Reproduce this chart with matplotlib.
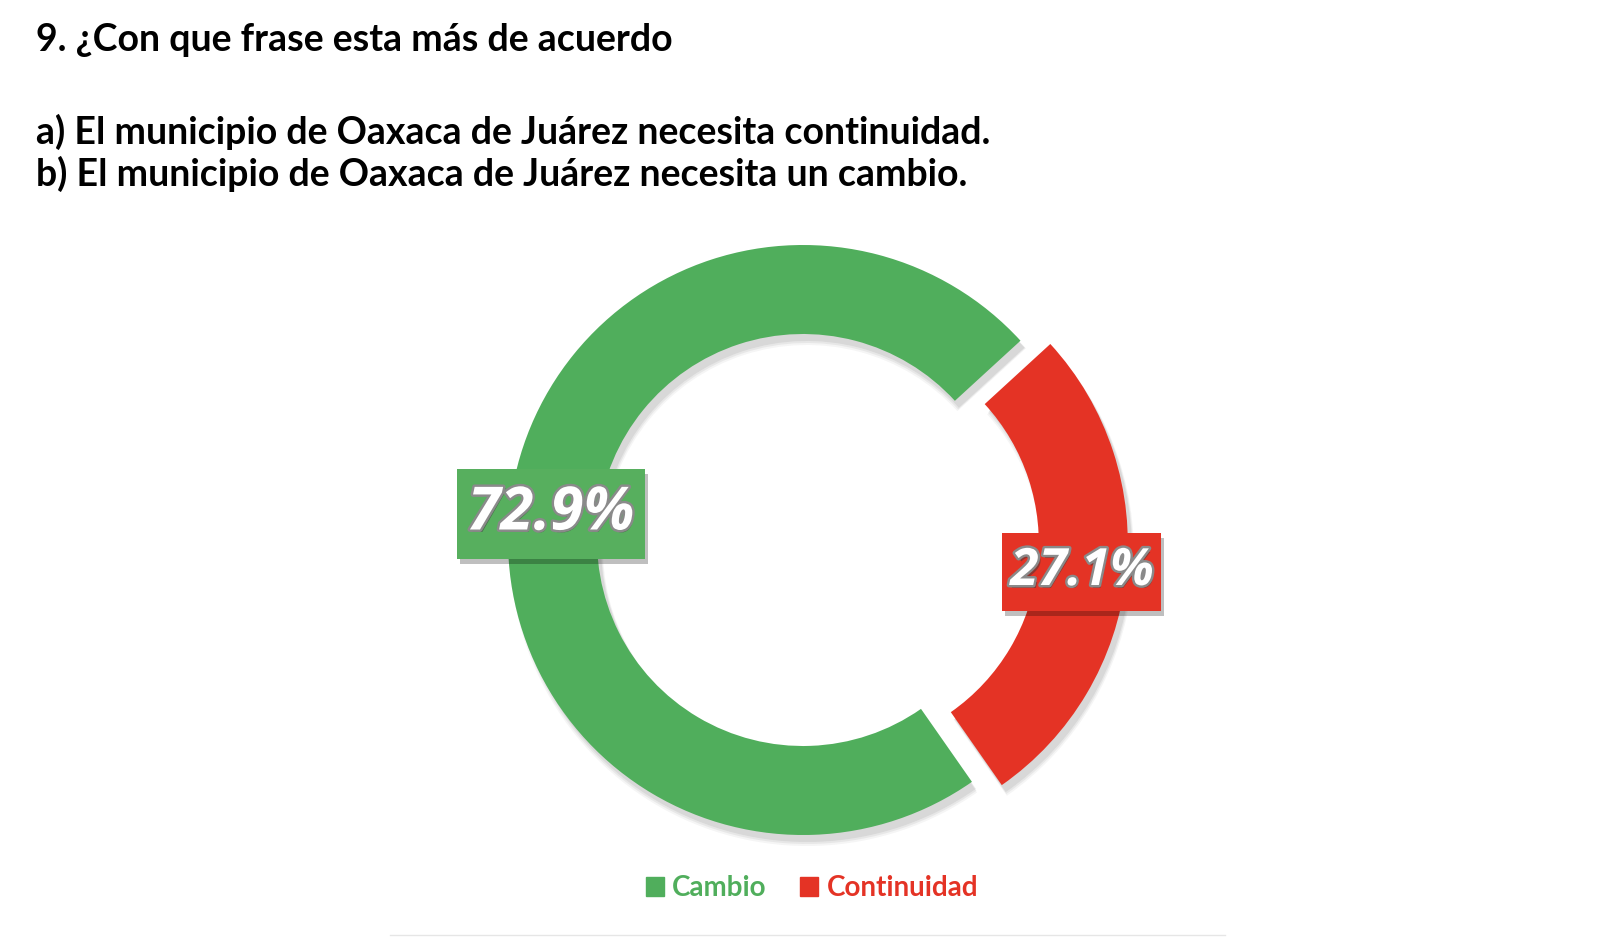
import numpy as np
import matplotlib.pyplot as plt
import matplotlib.patheffects as pe
from matplotlib.patches import Patch, Rectangle

# data
categories = [ 'Continuidad', 'Cambio' ]
shares     = [ 27.1, 72.9 ]
pct_labels = [ '27.1%', '72.9%' ]
title_lines = [
	'9. ¿Con que frase esta más de acuerdo',
	'a) El municipio de Oaxaca de Juárez necesita continuidad.',
	'b) El municipio de Oaxaca de Juárez necesita un cambio.',
]

RED   = '#e43325'
GREEN = '#50ae5c'
colors = [ RED, GREEN ]

W, H = 1608, 942
fig = plt.figure( figsize = ( W / 100, H / 100 ), dpi = 100 )
ax  = fig.add_axes( [ 0, 0, 1, 1 ] )

cx, cy = 803, H - 540
R, ring = 295, 89
explode = [ 30, 0 ]
start = 42.5

# soft shadow under the ring
for k, a in enumerate( [ 0.10, 0.08, 0.06 ] ):
	ax.pie( shares, colors = [ '#555555' ] * 2, startangle = start, counterclock = False,
		radius = R + k, center = ( cx + 4, cy - 7 - k ), explode = explode,
		wedgeprops = dict( width = ring + 2 * k, alpha = a, linewidth = 0 ) )

wedges, _ = ax.pie( shares, colors = colors, startangle = start, counterclock = False,
	radius = R, center = ( cx, cy ), explode = explode,
	wedgeprops = dict( width = ring, linewidth = 0 ) )

ax.set_xlim( 0, W )
ax.set_ylim( 0, H )
ax.set_aspect( 'equal' )
ax.axis( 'off' )

# percentage boxes
boxes = [ ( 1082, H - 572, 159, 78, RED, 37 ), ( 551, H - 514, 188, 90, '#57af5e', 43 ) ]
for ( bx, by, bw, bh, bc, fs ), txt in zip( boxes, pct_labels ):
	ax.add_patch( Rectangle( ( bx - bw / 2 + 3, by - bh / 2 - 5 ), bw, bh,
		color = '#000000', alpha = 0.25, lw = 0 ) )
	ax.add_patch( Rectangle( ( bx - bw / 2, by - bh / 2 ), bw, bh, color = bc, lw = 0 ) )
	ax.text( bx + 2, by - 3, txt, ha = 'center', va = 'center', color = '#3a3a3a', alpha = 0.5,
		fontsize = fs, fontweight = 'bold', style = 'italic', family = 'Open Sans' )
	ax.text( bx, by, txt, ha = 'center', va = 'center', color = 'white',
		fontsize = fs, fontweight = 'bold', style = 'italic', family = 'Open Sans',
		path_effects = [ pe.withStroke( linewidth = 3.5, foreground = '#8a8a8a' ) ] )

# title block
for txt, ty in zip( title_lines, [ 40, 132, 174 ] ):
	fig.text( 36 / W, 1 - ty / H, txt, fontsize = 27, fontweight = 'bold',
		family = 'Lato', va = 'center', ha = 'left' )

# legend
handles = [ Patch( color = GREEN, label = categories[ 1 ] ),
	Patch( color = RED, label = categories[ 0 ] ) ]
fig.legend( handles = handles, loc = 'center', bbox_to_anchor = ( 812 / W, 1 - 888 / H ),
	ncol = 2, frameon = False, labelcolor = [ GREEN, RED ],
	prop = dict( family = 'Lato', weight = 'bold', size = 20 ),
	handlelength = 0.65, handleheight = 0.65, handletextpad = 0.3, columnspacing = 1.2 )

ax.plot( [ 390, 1225 ], [ H - 935, H - 935 ], color = '#e6e6e6', lw = 1 )

fig.savefig( 'out.png', dpi = 100, facecolor = 'white' )
